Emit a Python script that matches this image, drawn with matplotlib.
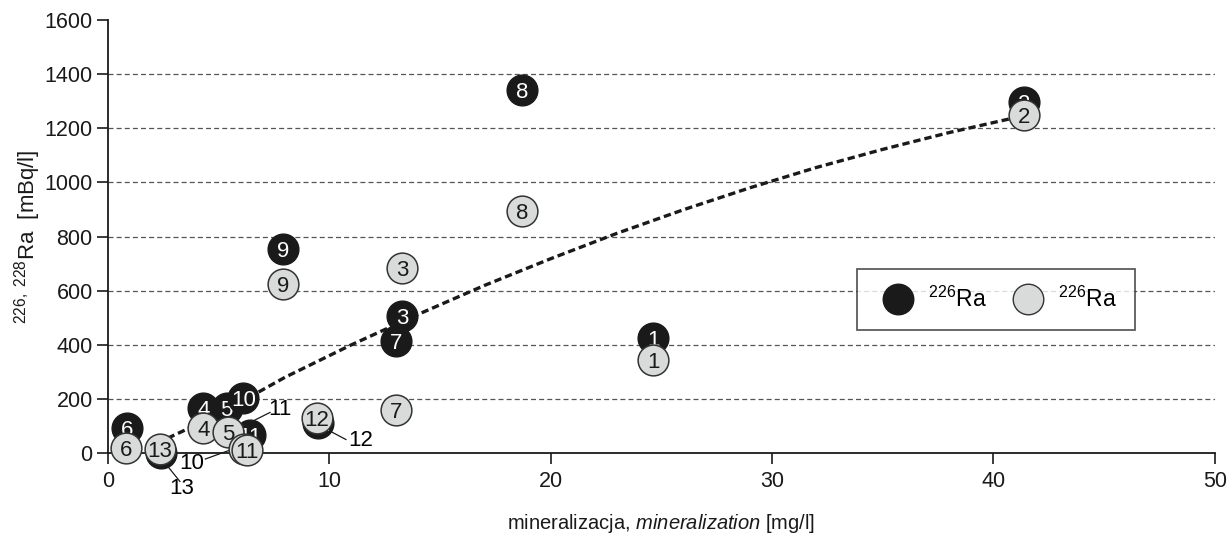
import matplotlib
matplotlib.use("Agg")
import matplotlib.pyplot as plt
from matplotlib.lines import Line2D

plt.rcParams['font.family'] = ['Liberation Sans', 'DejaVu Sans']
plt.rcParams['mathtext.fontset'] = 'custom'
plt.rcParams['mathtext.rm'] = 'Liberation Sans'
plt.rcParams['mathtext.it'] = 'Liberation Sans:italic'
plt.rcParams['mathtext.default'] = 'regular'

# ---- data ----
labels = ["1", "2", "3", "4", "5", "6", "7", "8", "9", "10", "11", "12", "13"]
ra226_x = [24.63, 41.4, 13.3, 4.31, 5.36, 0.84, 13.0, 18.7, 7.92, 6.11, 6.4, 9.48, 2.38]
ra226_y = [424, 1298, 506, 165, 165, 91, 414, 1341, 753, 202, 66, 111, 0]
ra228_x = [24.63, 41.4, 13.3, 4.31, 5.43, 0.81, 13.0, 18.71, 7.92, 6.15, 6.26, 9.43, 2.35]
ra228_y = [344, 1249, 685, 91, 79, 17, 159, 894, 624, 14, 11, 128, 14]

# trend line
trend_x = [2.7, 5, 8, 11, 14, 17, 20, 23, 26, 29, 32, 35, 38, 40.7]
trend_y = [55, 143, 280, 400, 512, 619, 718, 812, 899, 980, 1055, 1122, 1184, 1234]

x_ticks = [0, 10, 20, 30, 40, 50]
y_ticks = [0, 200, 400, 600, 800, 1000, 1200, 1400, 1600]

# outside labels: (text, text_x, text_y, line_x0, line_y0, line_x1, line_y1)
callouts = [
    ("11", 7.77, 162, 6.64, 122, 7.32, 150),
    ("12", 11.4, 46, 9.94, 85, 10.75, 50),
    ("10", 3.8, -37, 4.4, -22, 5.51, 11),
    ("13", 3.34, -132, 2.62, -41, 3.25, -105),
]

BLACK = "#1a1a1a"
GRAY = "#d9dbdb"
EDGE = "#333333"
MS = 490
NUMFS = 16

fig = plt.figure(figsize=(12.27, 5.33), dpi=100)
ax = fig.add_axes([0.088, 0.150, 0.902, 0.8125])
ax.set_xlim(0, 50)
ax.set_ylim(0, 1600)

for yv in y_ticks[1:-1]:
    ax.axhline(yv, color="#555555", lw=0.9, ls=(0, (4, 2.5)), zorder=1)

ax.plot(trend_x, trend_y, color="#1a1a1a", lw=2.4, ls=(0, (2.2, 1.2)), zorder=2)

z = 10
for lab, x, y in zip(labels, ra226_x, ra226_y):
    ax.scatter([x], [y], s=MS, color=BLACK, edgecolors=BLACK, lw=1, zorder=z, clip_on=False)
    ax.text(x, y, lab, color="white", fontsize=NUMFS, ha="center", va="center_baseline",
            zorder=z + 1, clip_on=False)
    z += 2
for lab, x, y in zip(labels, ra228_x, ra228_y):
    ax.scatter([x], [y], s=MS, color=GRAY, edgecolors=EDGE, lw=1.1, zorder=z, clip_on=False)
    ax.text(x, y, lab, color="#1a1a1a", fontsize=NUMFS, ha="center", va="center_baseline",
            zorder=z + 1, clip_on=False)
    z += 2

for t, tx, ty, x0, y0, x1, y1 in callouts:
    ax.plot([x0, x1], [y0, y1], color="#1a1a1a", lw=0.9, zorder=5, clip_on=False)
    ax.text(tx, ty, t, fontsize=NUMFS, ha="center", va="center", zorder=5, clip_on=False)

for s in ["top", "right"]:
    ax.spines[s].set_visible(False)
for s in ["left", "bottom"]:
    ax.spines[s].set_linewidth(1.3)
    ax.spines[s].set_color("#1a1a1a")

ax.set_xticks(x_ticks)
ax.set_yticks(y_ticks)
ax.tick_params(axis="both", direction="out", length=8, width=1.2, labelsize=15.5, colors="#1a1a1a")
ax.tick_params(axis="x", pad=5)
ax.tick_params(axis="y", pad=3)

ax.set_xlabel("mineralizacja, $\\it{mineralization}$ [mg/l]", fontsize=14.5, color="#1a1a1a", labelpad=14)
ax.set_ylabel("$^{226,\\ 228}$Ra  [mBq/l]", fontsize=16, color="#1a1a1a", labelpad=1)

handles = [
    Line2D([], [], marker="o", ls="", markersize=22, markerfacecolor=BLACK, markeredgecolor=BLACK),
    Line2D([], [], marker="o", ls="", markersize=22, markerfacecolor=GRAY, markeredgecolor=EDGE),
]
leg = ax.legend(handles, ["$^{226}$Ra", "$^{226}$Ra"], ncol=2, loc="center",
                bbox_to_anchor=(0.677, 0.279, 0.251, 0.151), mode="expand", borderaxespad=0,
                frameon=True, fancybox=False, fontsize=16.5, handletextpad=0.3,
                columnspacing=1.5, borderpad=0.8, handlelength=2.0)
leg.get_frame().set_edgecolor("#333333")
leg.get_frame().set_linewidth(1.3)
leg.set_zorder(100)

fig.savefig("out.png", dpi=100)
